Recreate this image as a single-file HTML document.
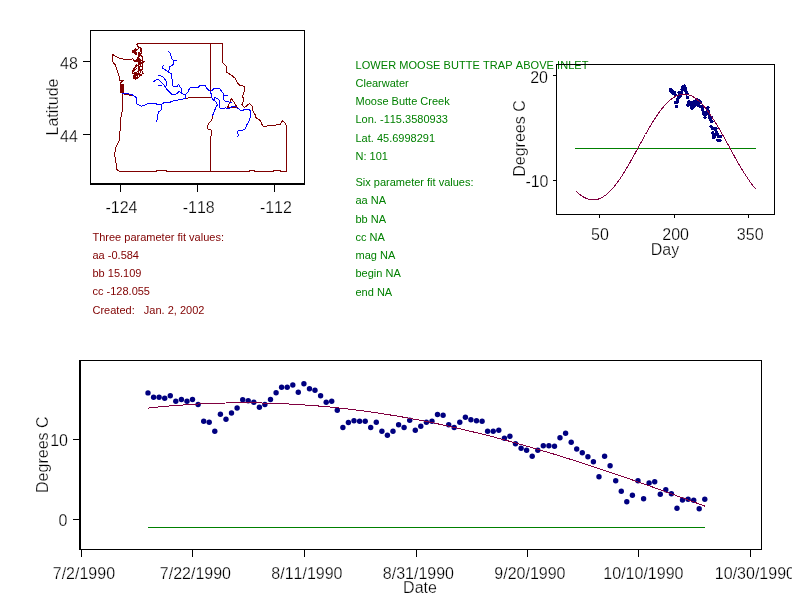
<!DOCTYPE html>
<html><head><meta charset="utf-8"><title>Temperature fit</title>
<style>html,body{margin:0;padding:0;background:#fff}svg{display:block}text{font-kerning:none}</style>
</head><body>
<svg width="792" height="611" viewBox="0 0 792 611" style="display:block">
<rect width="792" height="611" fill="#fff"/>
<g id="map" shape-rendering="crispEdges">
<rect x="90" y="30" width="215" height="1" fill="#000"/>
<rect x="90" y="30" width="1" height="155" fill="#000"/>
<rect x="304" y="30" width="1" height="155" fill="#000"/>
<rect x="90" y="183" width="215" height="2" fill="#000"/>
<rect x="83" y="61" width="7" height="1" fill="#000"/>
<rect x="83" y="134" width="7" height="1" fill="#000"/>
<rect x="120" y="185" width="1" height="7" fill="#000"/>
<rect x="197" y="185" width="1" height="7" fill="#000"/>
<rect x="274" y="185" width="1" height="7" fill="#000"/>
</g>
<g id="mapdata" shape-rendering="crispEdges">
<path d="M137.0 43.5 L222.8 43.5 L222.8 62.5 L226.2 66.2 L226.9 72.5 L231.2 75.0 L235.0 78.1 L237.5 83.1 L240.0 85.6 L244.4 86.2 L244.4 91.2 L242.5 96.2 L244.0 100.0 L241.9 104.4 L244.4 107.5 L249.6 103.5 L252.5 106.2 L252.5 110.0 L255.0 114.4 L256.2 118.1 L260.6 120.6 L261.9 124.4 L263.8 126.9 L270.0 125.0 L272.0 125.6 L277.5 124.8 L280.0 125.0 L282.5 120.6 L285.6 123.8 L286.5 126.2 L286.5 171.5" fill="none" stroke="#800000" stroke-width="1" stroke-linejoin="round"/>
<path d="M286.5 171.5 L280.6 171.5 L280.6 170.5 L273.0 170.5 L273.0 171.5 L254.8 171.5 L254.8 170.5 L249.0 170.5 L249.0 171.5 L166.9 171.5 L166.9 170.6 L156.9 170.6 L156.9 171.5 L119.4 171.5" fill="none" stroke="#800000" stroke-width="1" stroke-linejoin="round"/>
<path d="M119.4 171.5 L116.9 169.4 L116.2 167.5 L115.9 160.0 L114.4 155.0 L116.2 146.5 L118.8 141.2 L119.4 140.0 L120.0 131.2 L120.6 118.8 L122.2 111.2 L122.5 100.0 L122.0 93.1" fill="none" stroke="#800000" stroke-width="1" stroke-linejoin="round"/>
<path d="M122.0 93.1 L120.3 92.5 L120.3 83.2 L123.2 80.5 L119.8 80.2 L118.8 74.8 L117.5 71.2 L115.4 65.0 L112.1 61.1 L112.1 54.3 L112.9 54.7 L119.8 58.4 L126.0 59.5 L132.0 59.5" fill="none" stroke="#800000" stroke-width="1" stroke-linejoin="round"/>
<rect x="120" y="84" width="3.5" height="9" fill="#800000"/>
<rect x="136" y="44" width="2" height="1" fill="#800000"/>
<rect x="137" y="45" width="1" height="1" fill="#800000"/>
<rect x="137" y="46" width="2" height="1" fill="#800000"/>
<rect x="138" y="47" width="3" height="1" fill="#800000"/>
<rect x="135" y="48" width="1" height="1" fill="#800000"/>
<rect x="138" y="48" width="1" height="1" fill="#800000"/>
<rect x="140" y="48" width="2" height="1" fill="#800000"/>
<rect x="134" y="49" width="4" height="1" fill="#800000"/>
<rect x="140" y="49" width="2" height="1" fill="#800000"/>
<rect x="132" y="50" width="5" height="1" fill="#800000"/>
<rect x="140" y="50" width="2" height="1" fill="#800000"/>
<rect x="132" y="51" width="4" height="1" fill="#800000"/>
<rect x="140" y="51" width="2" height="1" fill="#800000"/>
<rect x="132" y="52" width="5" height="1" fill="#800000"/>
<rect x="138" y="52" width="2" height="1" fill="#800000"/>
<rect x="141" y="52" width="1" height="1" fill="#800000"/>
<rect x="134" y="53" width="3" height="1" fill="#800000"/>
<rect x="138" y="53" width="4" height="1" fill="#800000"/>
<rect x="135" y="54" width="2" height="1" fill="#800000"/>
<rect x="138" y="54" width="3" height="1" fill="#800000"/>
<rect x="138" y="55" width="4" height="1" fill="#800000"/>
<rect x="138" y="56" width="2" height="1" fill="#800000"/>
<rect x="141" y="56" width="2" height="1" fill="#800000"/>
<rect x="137" y="57" width="2" height="1" fill="#800000"/>
<rect x="142" y="57" width="1" height="1" fill="#800000"/>
<rect x="132" y="58" width="1" height="1" fill="#800000"/>
<rect x="137" y="58" width="3" height="1" fill="#800000"/>
<rect x="142" y="58" width="1" height="1" fill="#800000"/>
<rect x="133" y="59" width="1" height="1" fill="#800000"/>
<rect x="136" y="59" width="5" height="1" fill="#800000"/>
<rect x="142" y="59" width="1" height="1" fill="#800000"/>
<rect x="133" y="60" width="10" height="1" fill="#800000"/>
<rect x="134" y="61" width="7" height="1" fill="#800000"/>
<rect x="142" y="61" width="3" height="1" fill="#800000"/>
<rect x="138" y="62" width="6" height="1" fill="#800000"/>
<rect x="138" y="63" width="5" height="1" fill="#800000"/>
<rect x="136" y="64" width="1" height="1" fill="#800000"/>
<rect x="138" y="64" width="3" height="1" fill="#800000"/>
<rect x="142" y="64" width="1" height="1" fill="#800000"/>
<rect x="135" y="65" width="4" height="1" fill="#800000"/>
<rect x="140" y="65" width="1" height="1" fill="#800000"/>
<rect x="142" y="65" width="1" height="1" fill="#800000"/>
<rect x="135" y="66" width="2" height="1" fill="#800000"/>
<rect x="138" y="66" width="5" height="1" fill="#800000"/>
<rect x="134" y="67" width="2" height="1" fill="#800000"/>
<rect x="138" y="67" width="2" height="1" fill="#800000"/>
<rect x="142" y="67" width="1" height="1" fill="#800000"/>
<rect x="133" y="68" width="2" height="1" fill="#800000"/>
<rect x="136" y="68" width="1" height="1" fill="#800000"/>
<rect x="138" y="68" width="2" height="1" fill="#800000"/>
<rect x="142" y="68" width="1" height="1" fill="#800000"/>
<rect x="133" y="69" width="3" height="1" fill="#800000"/>
<rect x="138" y="69" width="5" height="1" fill="#800000"/>
<rect x="132" y="70" width="3" height="1" fill="#800000"/>
<rect x="138" y="70" width="4" height="1" fill="#800000"/>
<rect x="132" y="71" width="2" height="1" fill="#800000"/>
<rect x="137" y="71" width="2" height="1" fill="#800000"/>
<rect x="140" y="71" width="1" height="1" fill="#800000"/>
<rect x="142" y="71" width="1" height="1" fill="#800000"/>
<rect x="132" y="72" width="1" height="1" fill="#800000"/>
<rect x="134" y="72" width="3" height="1" fill="#800000"/>
<rect x="138" y="72" width="1" height="1" fill="#800000"/>
<rect x="140" y="72" width="1" height="1" fill="#800000"/>
<rect x="142" y="72" width="1" height="1" fill="#800000"/>
<rect x="132" y="73" width="8" height="1" fill="#800000"/>
<rect x="142" y="73" width="2" height="1" fill="#800000"/>
<rect x="134" y="74" width="8" height="1" fill="#800000"/>
<rect x="133" y="75" width="5" height="1" fill="#800000"/>
<rect x="139" y="75" width="3" height="1" fill="#800000"/>
<rect x="133" y="76" width="3" height="1" fill="#800000"/>
<rect x="137" y="76" width="1" height="1" fill="#800000"/>
<rect x="139" y="76" width="1" height="1" fill="#800000"/>
<rect x="133" y="77" width="6" height="1" fill="#800000"/>
<rect x="133" y="78" width="5" height="1" fill="#800000"/>
<rect x="135" y="79" width="1" height="1" fill="#800000"/>
<path d="M210.6 43.5 L210.6 91.5" fill="none" stroke="#800000" stroke-width="1" stroke-linejoin="round"/>
<path d="M185.5 98.4 L191.1 97.5 L197.2 97.9 L199.2 97.4 L210.6 97.8" fill="none" stroke="#800000" stroke-width="1" stroke-linejoin="round"/>
<path d="M212.4 115.8 L211.9 119.6 L209.4 122.7 L207.4 125.7 L207.5 128.7 L211.4 130.3 L211.6 134.8 L210.6 136.4 L210.6 171.5" fill="none" stroke="#800000" stroke-width="1" stroke-linejoin="round"/>
<path d="M122.0 93.6 L132.0 95.5" fill="none" stroke="#800000" stroke-width="1" stroke-linejoin="round"/>
<path d="M231.5 98.4 L227.6 107.4 L237.3 107.4 Z" fill="none" stroke="#800000" stroke-width="1" stroke-linejoin="round"/>
<path d="M122.0 93.1 L125.0 93.1 L132.5 95.0 L136.2 97.5 L136.6 104.0 L141.2 106.2 L144.4 105.6 L147.8 103.5 L156.2 103.6 L157.0 105.0 L161.0 104.4 L164.4 102.5 L169.4 102.8 L171.9 101.2 L176.2 100.4 L180.0 99.6 L185.2 98.6 L185.3 94.4 L187.9 92.1 L189.6 88.2 L191.5 87.3 L195.7 88.0 L198.2 87.3 L200.2 85.4 L205.3 85.4 L206.8 88.1 L208.9 90.7 L210.9 91.2 L213.9 88.7 L219.5 88.7 L221.5 91.2 L223.1 93.2 L223.6 95.5 L223.6 99.8 L225.1 101.3 L228.6 101.9 L231.9 102.4" fill="none" stroke="#0000ff" stroke-width="1" stroke-linejoin="round"/>
<path d="M223.6 95.5 L227.6 95.5" fill="none" stroke="#0000ff" stroke-width="1" stroke-linejoin="round"/>
<path d="M185.3 94.4 L181.5 93.6 L181.4 88.7 L179.7 86.4 L178.4 84.2 L177.0 86.4 L172.5 86.0 L172.3 79.7 L171.6 77.4 L171.6 73.8 L168.5 72.0 L169.4 68.9 L169.8 66.4 L172.1 65.5 L173.9 63.9 L173.9 60.5 L176.6 60.3 L173.9 60.5 L172.1 59.4 L171.2 56.7 L170.3 53.6 L168.5 51.3" fill="none" stroke="#0000ff" stroke-width="1" stroke-linejoin="round"/>
<path d="M168.5 72.0 L166.7 70.7 L163.5 68.9 L162.4 68.0 L162.5 66.6 L163.6 65.6" fill="none" stroke="#0000ff" stroke-width="1" stroke-linejoin="round"/>
<path d="M181.5 93.6 L179.3 91.4 L177.0 93.6 L174.3 94.5 L171.6 94.1 L169.4 91.8 L167.1 89.6 L165.8 87.3 L166.2 84.6 L166.2 81.5 L164.4 78.3 L161.7 76.1 L157.7 75.6" fill="none" stroke="#0000ff" stroke-width="1" stroke-linejoin="round"/>
<path d="M165.8 87.3 L163.5 84.6 L160.8 81.9 L158.6 79.7 L156.3 79.7 L153.6 81.9" fill="none" stroke="#0000ff" stroke-width="1" stroke-linejoin="round"/>
<path d="M161.7 85.0 L157.7 86.0" fill="none" stroke="#0000ff" stroke-width="1" stroke-linejoin="round"/>
<path d="M161.0 104.4 L161.5 109.4 L158.1 112.5 L157.8 118.8 L156.2 121.5" fill="none" stroke="#0000ff" stroke-width="1" stroke-linejoin="round"/>
<path d="M210.9 91.2 L211.2 97.3 L213.4 99.8 L214.9 97.5 L218.0 98.8 L219.3 100.8 L219.5 107.4 L221.0 109.0 L225.1 107.9 L229.7 108.4 L231.7 106.9 L235.7 106.9 L238.8 109.0 L241.8 111.0 L244.9 109.3 L248.9 109.5 L250.8 111.5 L250.5 116.6 L248.9 121.6 L246.9 124.7 L245.4 128.7 L242.9 130.3 L238.3 130.3 L237.6 132.8 L238.3 134.8 L237.6 137.3" fill="none" stroke="#0000ff" stroke-width="1" stroke-linejoin="round"/>
<path d="M213.4 99.8 L216.0 101.9 L217.3 104.9 L215.4 108.4 L213.9 112.5 L212.4 115.8" fill="none" stroke="#0000ff" stroke-width="1" stroke-linejoin="round"/>
<rect x="213" y="99" width="2" height="2" fill="#0000ff"/>
</g>
<g font-family="'Liberation Sans', Arial, sans-serif" font-size="11" fill="#008000">
<text x="355.5" y="68.7" textLength="233" lengthAdjust="spacing">LOWER MOOSE BUTTE TRAP ABOVE INLET</text>
<text x="355.5" y="86.95">Clearwater</text>
<text x="355.5" y="105.2">Moose Butte Creek</text>
<text x="355.5" y="123.45">Lon. -115.3580933</text>
<text x="355.5" y="141.7">Lat. 45.6998291</text>
<text x="355.5" y="159.9">N: 101</text>
<text x="355.5" y="185.5">Six parameter fit values:</text>
<text x="355.5" y="203.7">aa NA</text>
<text x="355.5" y="222.7">bb NA</text>
<text x="355.5" y="241.1">cc NA</text>
<text x="355.5" y="258.6">mag NA</text>
<text x="355.5" y="276.5">begin NA</text>
<text x="355.5" y="295.5">end NA</text>
</g>
<g id="tr" shape-rendering="crispEdges">
<rect x="556" y="64" width="219" height="1" fill="#000"/>
<rect x="556" y="64" width="1" height="151" fill="#000"/>
<rect x="774" y="64" width="1" height="151" fill="#000"/>
<rect x="556" y="214" width="219" height="1" fill="#000"/>
<rect x="553" y="75" width="3" height="1" fill="#000"/>
<rect x="553" y="180" width="3" height="1" fill="#000"/>
<rect x="599" y="215" width="1" height="3" fill="#000"/>
<rect x="674" y="215" width="1" height="3" fill="#000"/>
<rect x="748" y="215" width="1" height="3" fill="#000"/>
<rect x="575" y="148" width="181" height="1" fill="#008000"/>
<circle cx="670.6" cy="89.8" r="1.7" fill="#000080"/>
<circle cx="671.1" cy="91.7" r="1.7" fill="#000080"/>
<circle cx="671.6" cy="91.7" r="1.7" fill="#000080"/>
<circle cx="672.1" cy="92.2" r="1.7" fill="#000080"/>
<circle cx="672.6" cy="91.1" r="1.7" fill="#000080"/>
<circle cx="673.1" cy="93.5" r="1.7" fill="#000080"/>
<circle cx="673.6" cy="92.7" r="1.7" fill="#000080"/>
<circle cx="674.1" cy="93.5" r="1.7" fill="#000080"/>
<circle cx="674.6" cy="92.7" r="1.7" fill="#000080"/>
<circle cx="675.1" cy="94.9" r="1.7" fill="#000080"/>
<circle cx="675.6" cy="102.3" r="1.7" fill="#000080"/>
<circle cx="676.1" cy="102.7" r="1.7" fill="#000080"/>
<circle cx="676.6" cy="106.6" r="1.7" fill="#000080"/>
<circle cx="677.1" cy="99.1" r="1.7" fill="#000080"/>
<circle cx="677.6" cy="101.4" r="1.7" fill="#000080"/>
<circle cx="678.1" cy="98.6" r="1.7" fill="#000080"/>
<circle cx="678.6" cy="96.4" r="1.7" fill="#000080"/>
<circle cx="679.1" cy="92.8" r="1.7" fill="#000080"/>
<circle cx="679.6" cy="93.2" r="1.7" fill="#000080"/>
<circle cx="680.1" cy="93.9" r="1.7" fill="#000080"/>
<circle cx="680.6" cy="96.1" r="1.7" fill="#000080"/>
<circle cx="681.0" cy="94.9" r="1.7" fill="#000080"/>
<circle cx="681.5" cy="92.7" r="1.7" fill="#000080"/>
<circle cx="682.0" cy="89.8" r="1.7" fill="#000080"/>
<circle cx="682.5" cy="87.3" r="1.7" fill="#000080"/>
<circle cx="683.0" cy="87.3" r="1.7" fill="#000080"/>
<circle cx="683.5" cy="86.4" r="1.7" fill="#000080"/>
<circle cx="684.0" cy="89.5" r="1.7" fill="#000080"/>
<circle cx="684.5" cy="85.9" r="1.7" fill="#000080"/>
<circle cx="685.0" cy="88.0" r="1.7" fill="#000080"/>
<circle cx="685.5" cy="88.7" r="1.7" fill="#000080"/>
<circle cx="686.0" cy="91.1" r="1.7" fill="#000080"/>
<circle cx="686.5" cy="93.9" r="1.7" fill="#000080"/>
<circle cx="687.0" cy="93.5" r="1.7" fill="#000080"/>
<circle cx="687.5" cy="97.4" r="1.7" fill="#000080"/>
<circle cx="688.0" cy="105.0" r="1.7" fill="#000080"/>
<circle cx="688.5" cy="102.8" r="1.7" fill="#000080"/>
<circle cx="689.0" cy="102.0" r="1.7" fill="#000080"/>
<circle cx="689.5" cy="102.3" r="1.7" fill="#000080"/>
<circle cx="690.0" cy="102.3" r="1.7" fill="#000080"/>
<circle cx="690.5" cy="105.0" r="1.7" fill="#000080"/>
<circle cx="691.0" cy="102.7" r="1.7" fill="#000080"/>
<circle cx="691.5" cy="106.6" r="1.7" fill="#000080"/>
<circle cx="692.0" cy="108.4" r="1.7" fill="#000080"/>
<circle cx="692.5" cy="106.6" r="1.7" fill="#000080"/>
<circle cx="693.0" cy="103.7" r="1.7" fill="#000080"/>
<circle cx="693.5" cy="105.0" r="1.7" fill="#000080"/>
<circle cx="694.0" cy="101.8" r="1.7" fill="#000080"/>
<circle cx="694.5" cy="106.1" r="1.7" fill="#000080"/>
<circle cx="695.0" cy="104.4" r="1.7" fill="#000080"/>
<circle cx="695.5" cy="102.7" r="1.7" fill="#000080"/>
<circle cx="696.0" cy="102.2" r="1.7" fill="#000080"/>
<circle cx="696.5" cy="99.3" r="1.7" fill="#000080"/>
<circle cx="697.0" cy="99.6" r="1.7" fill="#000080"/>
<circle cx="697.5" cy="103.7" r="1.7" fill="#000080"/>
<circle cx="698.0" cy="105.0" r="1.7" fill="#000080"/>
<circle cx="698.5" cy="102.7" r="1.7" fill="#000080"/>
<circle cx="699.0" cy="100.5" r="1.7" fill="#000080"/>
<circle cx="699.5" cy="101.6" r="1.7" fill="#000080"/>
<circle cx="700.0" cy="102.0" r="1.7" fill="#000080"/>
<circle cx="700.5" cy="102.2" r="1.7" fill="#000080"/>
<circle cx="700.9" cy="106.6" r="1.7" fill="#000080"/>
<circle cx="701.4" cy="106.6" r="1.7" fill="#000080"/>
<circle cx="701.9" cy="106.1" r="1.7" fill="#000080"/>
<circle cx="702.4" cy="109.6" r="1.7" fill="#000080"/>
<circle cx="702.9" cy="108.8" r="1.7" fill="#000080"/>
<circle cx="703.4" cy="112.1" r="1.7" fill="#000080"/>
<circle cx="703.9" cy="114.1" r="1.7" fill="#000080"/>
<circle cx="704.4" cy="114.9" r="1.7" fill="#000080"/>
<circle cx="704.9" cy="117.5" r="1.7" fill="#000080"/>
<circle cx="705.4" cy="114.9" r="1.7" fill="#000080"/>
<circle cx="705.9" cy="112.9" r="1.7" fill="#000080"/>
<circle cx="706.4" cy="112.9" r="1.7" fill="#000080"/>
<circle cx="706.9" cy="113.1" r="1.7" fill="#000080"/>
<circle cx="707.4" cy="109.5" r="1.7" fill="#000080"/>
<circle cx="707.9" cy="107.5" r="1.7" fill="#000080"/>
<circle cx="708.4" cy="111.4" r="1.7" fill="#000080"/>
<circle cx="708.9" cy="114.4" r="1.7" fill="#000080"/>
<circle cx="709.4" cy="116.0" r="1.7" fill="#000080"/>
<circle cx="709.9" cy="117.8" r="1.7" fill="#000080"/>
<circle cx="710.4" cy="120.0" r="1.7" fill="#000080"/>
<circle cx="710.9" cy="126.5" r="1.7" fill="#000080"/>
<circle cx="711.4" cy="117.5" r="1.7" fill="#000080"/>
<circle cx="711.9" cy="121.7" r="1.7" fill="#000080"/>
<circle cx="712.4" cy="128.3" r="1.7" fill="#000080"/>
<circle cx="712.9" cy="132.8" r="1.7" fill="#000080"/>
<circle cx="713.4" cy="137.4" r="1.7" fill="#000080"/>
<circle cx="713.9" cy="134.6" r="1.7" fill="#000080"/>
<circle cx="714.4" cy="128.3" r="1.7" fill="#000080"/>
<circle cx="714.9" cy="136.2" r="1.7" fill="#000080"/>
<circle cx="715.4" cy="129.2" r="1.7" fill="#000080"/>
<circle cx="715.9" cy="128.7" r="1.7" fill="#000080"/>
<circle cx="716.4" cy="134.2" r="1.7" fill="#000080"/>
<circle cx="716.9" cy="132.2" r="1.7" fill="#000080"/>
<circle cx="717.4" cy="133.9" r="1.7" fill="#000080"/>
<circle cx="717.9" cy="140.3" r="1.7" fill="#000080"/>
<circle cx="718.4" cy="136.7" r="1.7" fill="#000080"/>
<circle cx="718.9" cy="136.3" r="1.7" fill="#000080"/>
<circle cx="719.4" cy="136.8" r="1.7" fill="#000080"/>
<circle cx="719.9" cy="140.5" r="1.7" fill="#000080"/>
<circle cx="720.4" cy="136.3" r="1.7" fill="#000080"/>
<path d="M575.8 190.7 L576.8 191.7 L577.8 192.7 L578.8 193.6 L579.8 194.4 L580.8 195.2 L581.8 195.9 L582.8 196.6 L583.8 197.2 L584.8 197.7 L585.8 198.2 L586.8 198.6 L587.8 199.0 L588.8 199.3 L589.8 199.6 L590.7 199.7 L591.7 199.9 L592.7 199.9 L593.7 199.9 L594.7 199.8 L595.7 199.7 L596.7 199.5 L597.7 199.3 L598.7 198.9 L599.7 198.6 L600.7 198.1 L601.7 197.6 L602.7 197.1 L603.7 196.4 L604.7 195.8 L605.7 195.0 L606.7 194.2 L607.7 193.4 L608.7 192.5 L609.7 191.5 L610.6 190.5 L611.6 189.5 L612.6 188.3 L613.6 187.2 L614.6 186.0 L615.6 184.7 L616.6 183.4 L617.6 182.1 L618.6 180.7 L619.6 179.3 L620.6 177.8 L621.6 176.3 L622.6 174.8 L623.6 173.2 L624.6 171.6 L625.6 170.0 L626.6 168.3 L627.6 166.6 L628.6 164.9 L629.6 163.2 L630.5 161.5 L631.5 159.7 L632.5 157.9 L633.5 156.2 L634.5 154.4 L635.5 152.5 L636.5 150.7 L637.5 148.9 L638.5 147.1 L639.5 145.3 L640.5 143.5 L641.5 141.6 L642.5 139.8 L643.5 138.0 L644.5 136.2 L645.5 134.5 L646.5 132.7 L647.5 131.0 L648.5 129.2 L649.5 127.5 L650.4 125.9 L651.4 124.2 L652.4 122.6 L653.4 121.0 L654.4 119.4 L655.4 117.9 L656.4 116.4 L657.4 114.9 L658.4 113.5 L659.4 112.1 L660.4 110.7 L661.4 109.4 L662.4 108.2 L663.4 107.0 L664.4 105.8 L665.4 104.7 L666.4 103.6 L667.4 102.6 L668.4 101.7 L669.4 100.7 L670.3 99.9 L671.3 99.1 L672.3 98.4 L673.3 97.7 L674.3 97.1 L675.3 96.5 L676.3 96.0 L677.3 95.5 L678.3 95.2 L679.3 94.8 L680.3 94.6 L681.3 94.4 L682.3 94.2 L683.3 94.2 L684.3 94.2 L685.3 94.2 L686.3 94.3 L687.3 94.5 L688.3 94.8 L689.2 95.1 L690.2 95.4 L691.2 95.8 L692.2 96.3 L693.2 96.9 L694.2 97.5 L695.2 98.1 L696.2 98.9 L697.2 99.6 L698.2 100.5 L699.2 101.4 L700.2 102.3 L701.2 103.3 L702.2 104.4 L703.2 105.5 L704.2 106.6 L705.2 107.8 L706.2 109.1 L707.2 110.3 L708.2 111.7 L709.2 113.1 L710.1 114.5 L711.1 115.9 L712.1 117.4 L713.1 118.9 L714.1 120.5 L715.1 122.1 L716.1 123.7 L717.1 125.4 L718.1 127.0 L719.1 128.7 L720.1 130.4 L721.1 132.2 L722.1 133.9 L723.1 135.7 L724.1 137.5 L725.1 139.3 L726.1 141.1 L727.1 142.9 L728.1 144.7 L729.1 146.5 L730.0 148.4 L731.0 150.2 L732.0 152.0 L733.0 153.8 L734.0 155.6 L735.0 157.4 L736.0 159.2 L737.0 160.9 L738.0 162.7 L739.0 164.4 L740.0 166.1 L741.0 167.8 L742.0 169.5 L743.0 171.1 L744.0 172.7 L745.0 174.3 L746.0 175.8 L747.0 177.3 L748.0 178.8 L749.0 180.3 L749.9 181.7 L750.9 183.0 L751.9 184.3 L752.9 185.6 L753.9 186.8 L754.9 188.0 L755.9 189.1" fill="none" stroke="#800040" stroke-width="1" stroke-linejoin="round"/>
</g>
<g id="bp" shape-rendering="crispEdges">
<rect x="79" y="360" width="683" height="1" fill="#000"/>
<rect x="79" y="360" width="2" height="190" fill="#000"/>
<rect x="761" y="360" width="1" height="190" fill="#000"/>
<rect x="79" y="549" width="683" height="1" fill="#000"/>
<rect x="73" y="439" width="6" height="1" fill="#000"/>
<rect x="73" y="519" width="6" height="1" fill="#000"/>
<rect x="81" y="550" width="1" height="7" fill="#000"/>
<rect x="192" y="550" width="1" height="7" fill="#000"/>
<rect x="304" y="550" width="1" height="7" fill="#000"/>
<rect x="416" y="550" width="1" height="7" fill="#000"/>
<rect x="527" y="550" width="1" height="7" fill="#000"/>
<rect x="638" y="550" width="1" height="7" fill="#000"/>
<rect x="750" y="550" width="1" height="7" fill="#000"/>
<rect x="148" y="527" width="557" height="1" fill="#008000"/>
</g>
<g id="bpp">
<circle cx="148.0" cy="392.9" r="2.7" fill="#000080"/>
<circle cx="153.6" cy="397.2" r="2.7" fill="#000080"/>
<circle cx="159.1" cy="397.2" r="2.7" fill="#000080"/>
<circle cx="164.7" cy="398.3" r="2.7" fill="#000080"/>
<circle cx="170.3" cy="395.8" r="2.7" fill="#000080"/>
<circle cx="175.8" cy="401.2" r="2.7" fill="#000080"/>
<circle cx="181.4" cy="399.5" r="2.7" fill="#000080"/>
<circle cx="187.0" cy="401.2" r="2.7" fill="#000080"/>
<circle cx="192.5" cy="399.5" r="2.7" fill="#000080"/>
<circle cx="198.1" cy="404.5" r="2.7" fill="#000080"/>
<circle cx="203.7" cy="421.3" r="2.7" fill="#000080"/>
<circle cx="209.2" cy="422.3" r="2.7" fill="#000080"/>
<circle cx="214.8" cy="431.3" r="2.7" fill="#000080"/>
<circle cx="220.4" cy="414.2" r="2.7" fill="#000080"/>
<circle cx="226.0" cy="419.3" r="2.7" fill="#000080"/>
<circle cx="231.5" cy="413.0" r="2.7" fill="#000080"/>
<circle cx="237.1" cy="408.0" r="2.7" fill="#000080"/>
<circle cx="242.7" cy="399.7" r="2.7" fill="#000080"/>
<circle cx="248.2" cy="400.7" r="2.7" fill="#000080"/>
<circle cx="253.8" cy="402.2" r="2.7" fill="#000080"/>
<circle cx="259.4" cy="407.3" r="2.7" fill="#000080"/>
<circle cx="264.9" cy="404.5" r="2.7" fill="#000080"/>
<circle cx="270.5" cy="399.5" r="2.7" fill="#000080"/>
<circle cx="276.1" cy="392.8" r="2.7" fill="#000080"/>
<circle cx="281.6" cy="387.2" r="2.7" fill="#000080"/>
<circle cx="287.2" cy="387.2" r="2.7" fill="#000080"/>
<circle cx="292.8" cy="385.0" r="2.7" fill="#000080"/>
<circle cx="298.3" cy="392.2" r="2.7" fill="#000080"/>
<circle cx="303.9" cy="383.8" r="2.7" fill="#000080"/>
<circle cx="309.5" cy="388.8" r="2.7" fill="#000080"/>
<circle cx="315.0" cy="390.3" r="2.7" fill="#000080"/>
<circle cx="320.6" cy="395.8" r="2.7" fill="#000080"/>
<circle cx="326.2" cy="402.3" r="2.7" fill="#000080"/>
<circle cx="331.7" cy="401.2" r="2.7" fill="#000080"/>
<circle cx="337.3" cy="410.2" r="2.7" fill="#000080"/>
<circle cx="342.9" cy="427.5" r="2.7" fill="#000080"/>
<circle cx="348.4" cy="422.5" r="2.7" fill="#000080"/>
<circle cx="354.0" cy="420.8" r="2.7" fill="#000080"/>
<circle cx="359.6" cy="421.3" r="2.7" fill="#000080"/>
<circle cx="365.2" cy="421.3" r="2.7" fill="#000080"/>
<circle cx="370.7" cy="427.5" r="2.7" fill="#000080"/>
<circle cx="376.3" cy="422.3" r="2.7" fill="#000080"/>
<circle cx="381.9" cy="431.3" r="2.7" fill="#000080"/>
<circle cx="387.4" cy="435.3" r="2.7" fill="#000080"/>
<circle cx="393.0" cy="431.3" r="2.7" fill="#000080"/>
<circle cx="398.6" cy="424.7" r="2.7" fill="#000080"/>
<circle cx="404.1" cy="427.5" r="2.7" fill="#000080"/>
<circle cx="409.7" cy="420.2" r="2.7" fill="#000080"/>
<circle cx="415.3" cy="430.2" r="2.7" fill="#000080"/>
<circle cx="420.8" cy="426.2" r="2.7" fill="#000080"/>
<circle cx="426.4" cy="422.3" r="2.7" fill="#000080"/>
<circle cx="432.0" cy="421.2" r="2.7" fill="#000080"/>
<circle cx="437.5" cy="414.5" r="2.7" fill="#000080"/>
<circle cx="443.1" cy="415.2" r="2.7" fill="#000080"/>
<circle cx="448.7" cy="424.7" r="2.7" fill="#000080"/>
<circle cx="454.2" cy="427.5" r="2.7" fill="#000080"/>
<circle cx="459.8" cy="422.3" r="2.7" fill="#000080"/>
<circle cx="465.4" cy="417.3" r="2.7" fill="#000080"/>
<circle cx="470.9" cy="419.7" r="2.7" fill="#000080"/>
<circle cx="476.5" cy="420.7" r="2.7" fill="#000080"/>
<circle cx="482.1" cy="421.2" r="2.7" fill="#000080"/>
<circle cx="487.6" cy="431.3" r="2.7" fill="#000080"/>
<circle cx="493.2" cy="431.3" r="2.7" fill="#000080"/>
<circle cx="498.8" cy="430.2" r="2.7" fill="#000080"/>
<circle cx="504.4" cy="438.2" r="2.7" fill="#000080"/>
<circle cx="509.9" cy="436.3" r="2.7" fill="#000080"/>
<circle cx="515.5" cy="443.7" r="2.7" fill="#000080"/>
<circle cx="521.1" cy="448.3" r="2.7" fill="#000080"/>
<circle cx="526.6" cy="450.2" r="2.7" fill="#000080"/>
<circle cx="532.2" cy="456.2" r="2.7" fill="#000080"/>
<circle cx="537.8" cy="450.2" r="2.7" fill="#000080"/>
<circle cx="543.3" cy="445.7" r="2.7" fill="#000080"/>
<circle cx="548.9" cy="445.7" r="2.7" fill="#000080"/>
<circle cx="554.5" cy="446.2" r="2.7" fill="#000080"/>
<circle cx="560.0" cy="437.8" r="2.7" fill="#000080"/>
<circle cx="565.6" cy="433.3" r="2.7" fill="#000080"/>
<circle cx="571.2" cy="442.3" r="2.7" fill="#000080"/>
<circle cx="576.7" cy="449.0" r="2.7" fill="#000080"/>
<circle cx="582.3" cy="452.8" r="2.7" fill="#000080"/>
<circle cx="587.9" cy="456.8" r="2.7" fill="#000080"/>
<circle cx="593.4" cy="461.8" r="2.7" fill="#000080"/>
<circle cx="599.0" cy="476.8" r="2.7" fill="#000080"/>
<circle cx="604.6" cy="456.2" r="2.7" fill="#000080"/>
<circle cx="610.1" cy="465.8" r="2.7" fill="#000080"/>
<circle cx="615.7" cy="480.8" r="2.7" fill="#000080"/>
<circle cx="621.3" cy="491.2" r="2.7" fill="#000080"/>
<circle cx="626.8" cy="501.7" r="2.7" fill="#000080"/>
<circle cx="632.4" cy="495.3" r="2.7" fill="#000080"/>
<circle cx="638.0" cy="480.8" r="2.7" fill="#000080"/>
<circle cx="643.6" cy="498.8" r="2.7" fill="#000080"/>
<circle cx="649.1" cy="483.0" r="2.7" fill="#000080"/>
<circle cx="654.7" cy="481.7" r="2.7" fill="#000080"/>
<circle cx="660.3" cy="494.2" r="2.7" fill="#000080"/>
<circle cx="665.8" cy="489.7" r="2.7" fill="#000080"/>
<circle cx="671.4" cy="493.7" r="2.7" fill="#000080"/>
<circle cx="677.0" cy="508.2" r="2.7" fill="#000080"/>
<circle cx="682.5" cy="500.0" r="2.7" fill="#000080"/>
<circle cx="688.1" cy="499.2" r="2.7" fill="#000080"/>
<circle cx="693.7" cy="500.3" r="2.7" fill="#000080"/>
<circle cx="699.2" cy="508.7" r="2.7" fill="#000080"/>
<circle cx="704.8" cy="499.2" r="2.7" fill="#000080"/>
</g>
<g id="bpc" shape-rendering="crispEdges">
<path d="M148.0 408.1 L153.6 407.5 L159.1 406.9 L164.7 406.4 L170.3 405.9 L175.8 405.5 L181.4 405.1 L187.0 404.7 L192.5 404.3 L198.1 404.0 L203.7 403.7 L209.2 403.5 L214.8 403.3 L220.4 403.1 L226.0 403.0 L231.5 402.9 L237.1 402.8 L242.7 402.8 L248.2 402.8 L253.8 402.9 L259.4 402.9 L264.9 403.1 L270.5 403.2 L276.1 403.4 L281.6 403.6 L287.2 403.9 L292.8 404.2 L298.3 404.5 L303.9 404.9 L309.5 405.3 L315.0 405.7 L320.6 406.2 L326.2 406.7 L331.7 407.2 L337.3 407.8 L342.9 408.4 L348.4 409.0 L354.0 409.7 L359.6 410.4 L365.2 411.2 L370.7 412.0 L376.3 412.8 L381.9 413.6 L387.4 414.5 L393.0 415.4 L398.6 416.3 L404.1 417.3 L409.7 418.3 L415.3 419.4 L420.8 420.4 L426.4 421.5 L432.0 422.6 L437.5 423.8 L443.1 425.0 L448.7 426.2 L454.2 427.4 L459.8 428.7 L465.4 430.0 L470.9 431.4 L476.5 432.7 L482.1 434.1 L487.6 435.5 L493.2 436.9 L498.8 438.4 L504.4 439.9 L509.9 441.4 L515.5 442.9 L521.1 444.5 L526.6 446.1 L532.2 447.7 L537.8 449.3 L543.3 451.0 L548.9 452.6 L554.5 454.3 L560.0 456.0 L565.6 457.8 L571.2 459.5 L576.7 461.3 L582.3 463.1 L587.9 464.9 L593.4 466.7 L599.0 468.6 L604.6 470.4 L610.1 472.3 L615.7 474.2 L621.3 476.1 L626.8 478.0 L632.4 480.0 L638.0 481.9 L643.6 483.9 L649.1 485.8 L654.7 487.8 L660.3 489.8 L665.8 491.8 L671.4 493.8 L677.0 495.9 L682.5 497.9 L688.1 499.9 L693.7 502.0 L699.2 504.0 L704.8 506.1" fill="none" stroke="#800040" stroke-width="1" stroke-linejoin="round"/>
</g>
<g font-family="'Liberation Sans', Arial, sans-serif" font-size="16" fill="#000" stroke="#fff" stroke-width="0.25">
<text x="77.8" y="68.7" text-anchor="end">48</text>
<text x="77.8" y="141.5" text-anchor="end">44</text>
<text transform="translate(58,107) rotate(-90)" text-anchor="middle">Latitude</text>
<text x="121.5" y="213" text-anchor="middle">-124</text>
<text x="198.7" y="213" text-anchor="middle">-118</text>
<text x="275.9" y="213" text-anchor="middle">-112</text>
<text x="548" y="82.7" text-anchor="end">20</text>
<text x="548.5" y="186.7" text-anchor="end">-10</text>
<text transform="translate(525,138.5) rotate(-90)" text-anchor="middle">Degrees C</text>
<text x="600" y="239.6" text-anchor="middle">50</text>
<text x="675.6" y="239.6" text-anchor="middle">200</text>
<text x="750.2" y="239.6" text-anchor="middle">350</text>
<text x="665" y="255.4" text-anchor="middle">Day</text>
<text x="68" y="445.6" text-anchor="end">10</text>
<text x="67.3" y="526" text-anchor="end">0</text>
<text transform="translate(48,454.7) rotate(-90)" text-anchor="middle">Degrees C</text>
<text x="83.9" y="578.6" text-anchor="middle">7/2/1990</text>
<text x="195.4" y="578.6" text-anchor="middle">7/22/1990</text>
<text x="306.9" y="578.6" text-anchor="middle">8/11/1990</text>
<text x="418.4" y="578.6" text-anchor="middle">8/31/1990</text>
<text x="529.9" y="578.6" text-anchor="middle">9/20/1990</text>
<text x="643.4" y="578.6" text-anchor="middle">10/10/1990</text>
<text x="754.9" y="578.6" text-anchor="middle">10/30/1990</text>
<text x="420" y="593" text-anchor="middle">Date</text>
</g>
<g font-family="'Liberation Sans', Arial, sans-serif" font-size="11" fill="#800000">
<text x="92.5" y="240.9" xml:space="preserve">Three parameter fit values:</text>
<text x="92.5" y="259" xml:space="preserve">aa -0.584</text>
<text x="92.5" y="277" xml:space="preserve">bb 15.109</text>
<text x="92.5" y="295" xml:space="preserve">cc -128.055</text>
<text x="92.5" y="313.7" xml:space="preserve">Created:   Jan. 2, 2002</text>
</g>
</svg>
</body></html>
